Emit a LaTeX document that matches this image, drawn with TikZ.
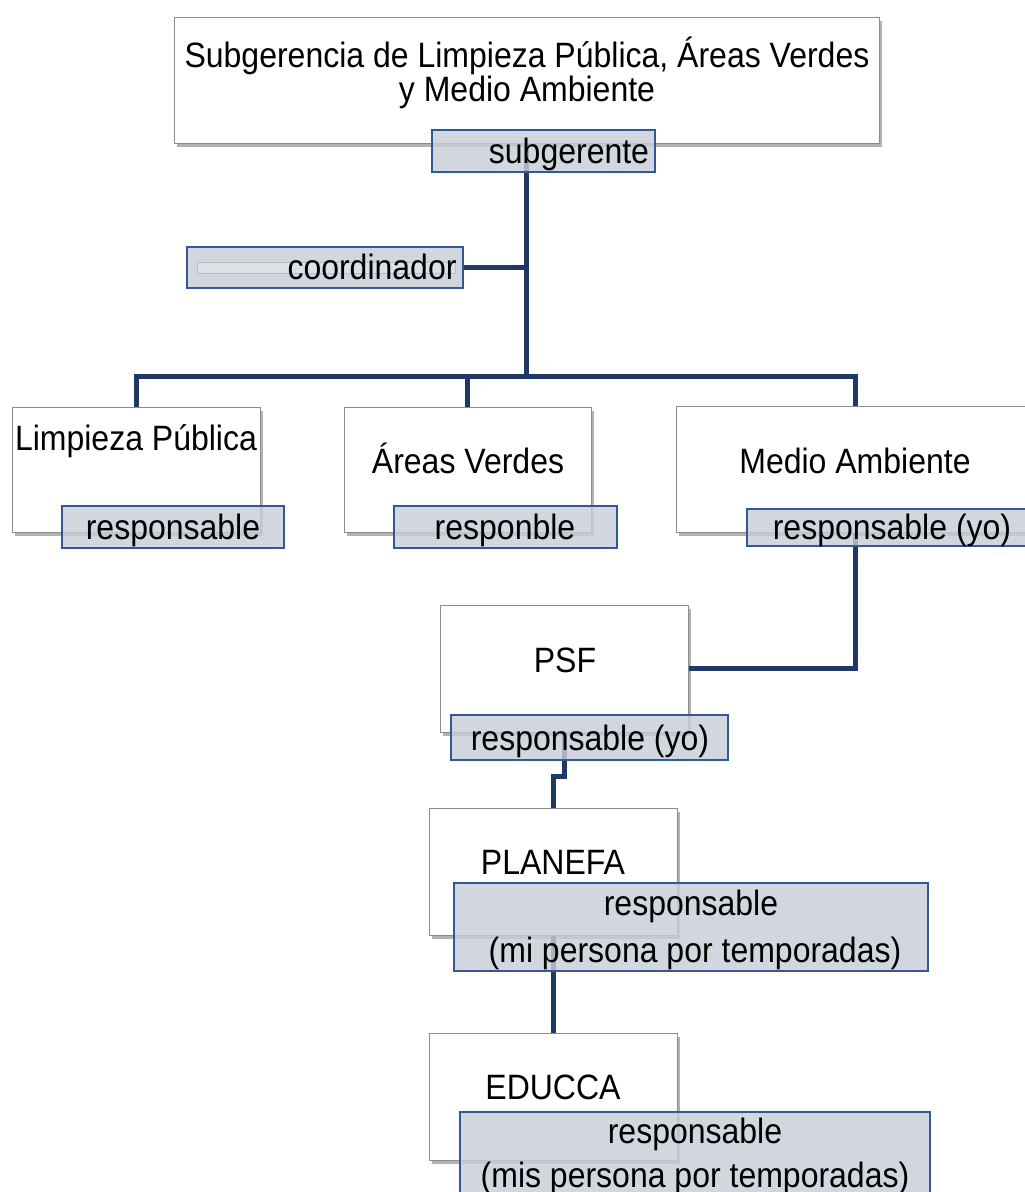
\documentclass[tikz,border=0pt]{standalone}
\usepackage{fontspec}
\setmainfont{Liberation Sans}
\usetikzlibrary{shadows}
\definecolor{navy}{RGB}{31,56,100}
\definecolor{lblfill}{RGB}{200,205,216}
\definecolor{lbldraw}{RGB}{52,88,150}
\definecolor{boxdraw}{RGB}{140,140,140}
\newcommand{\tallt}[1]{\scalebox{1}[1.1]{#1}}
\begin{document}
\begin{tikzpicture}[x=1pt,y=-1pt,
  wbox/.style={draw=boxdraw, line width=1pt, fill=white, inner sep=0pt,
    drop shadow={shadow xshift=2.5pt, shadow yshift=-4pt, opacity=0.55, fill=black!55}},
  lbox/.style={draw=lbldraw, line width=1.5pt, fill=lblfill, fill opacity=0.82, inner sep=0pt},
  conn/.style={draw=navy, line width=5pt},
  txt/.style={font=\fontsize{32}{38}\selectfont, inner sep=0pt, anchor=base, text=black}]
\path[use as bounding box, clip] (0,0) rectangle (1025,1192);
\fill[white] (0,0) rectangle (1025,1192);
% white boxes
\node[wbox, minimum width=705pt, minimum height=126pt] (top) at (526.5,80) {};
\node[wbox, minimum width=248pt, minimum height=125pt] (lp) at (136,469.5) {};
\node[wbox, minimum width=247pt, minimum height=125pt] (av) at (467.5,469.5) {};
\node[wbox, minimum width=358pt, minimum height=126pt] (ma) at (855,469) {};
\node[wbox, minimum width=248pt, minimum height=127pt] (psf) at (564,668.5) {};
\node[wbox, minimum width=248pt, minimum height=127pt] (pl) at (553,871.5) {};
\node[wbox, minimum width=248pt, minimum height=127pt] (ed) at (553,1096.5) {};
% texts of white boxes
\node[txt] (t1) at (527,67) {\tallt{Subgerencia de Limpieza Pública, Áreas Verdes}};
\node[txt] (t2) at (527,101) {\tallt{y Medio Ambiente}};
\node[txt] (tlp) at (136,450) {\tallt{Limpieza Pública}};
\node[txt] (tav) at (468,473) {\tallt{Áreas Verdes}};
\node[txt] (tma) at (855,473) {\tallt{Medio Ambiente}};
\node[txt] (tpsf) at (565,672) {\tallt{PSF}};
\node[txt] (tpl) at (553,874) {\tallt{PLANEFA}};
\node[txt] (ted) at (553,1099) {\tallt{EDUCCA}};
% connectors
\coordinate (bus) at (top.south |- 0,376);
\coordinate (j1) at (564,776);
\draw[conn] (top.south) -- (bus);
\draw[conn] (lp.north) |- (bus) -| (ma.north);
\draw[conn] (av.north) -- (av.north |- bus);
\draw[conn] (ma.south) |- (psf.east);
\draw[conn] (psf.south) -- (j1) -| (pl.north);
\draw[conn] (pl.south) -- (ed.north);
% label boxes
\node[lbox, minimum width=223pt, minimum height=42pt] (sub) at (543.5,151) {};
\node[lbox, minimum width=276pt, minimum height=41pt] (coord) at (325,267.5) {};
\draw[conn] (coord.east) -- (coord.east -| top.south);
\fill[white, opacity=0.25] (197,262) rectangle (455,273);
\draw[black!25, line width=0.6pt] (197,262) rectangle (455,273);
\node[lbox, minimum width=222pt, minimum height=42pt] (lpr) at (173,527) {};
\node[lbox, minimum width=223pt, minimum height=42pt] (avr) at (505.5,527) {};
\node[lbox, minimum width=290pt, minimum height=37pt] (mar) at (892,527.5) {};
\node[lbox, minimum width=277pt, minimum height=45pt] (psfr) at (589.5,737.5) {};
\node[lbox, minimum width=474pt, minimum height=88pt] (plr) at (691,927) {};
\node[lbox, minimum width=470pt, minimum height=90pt] (edr) at (695,1157) {};
% label texts
\node[txt] (tsub) at (569,163) {\tallt{subgerente}};
\node[txt] (tcoord) at (372,279) {\tallt{coordinador}};
\node[txt] (tlpr) at (173,539) {\tallt{responsable}};
\node[txt] (tavr) at (505,539) {\tallt{responble}};
\node[txt] (tmar) at (892,539) {\tallt{responsable (yo)}};
\node[txt] (tpsfr) at (590,750) {\tallt{responsable (yo)}};
\node[txt] (tplr1) at (691,915) {\tallt{responsable}};
\node[txt] (tplr2) at (695,962) {\tallt{(mi persona por temporadas)}};
\node[txt] (tedr1) at (695,1143) {\tallt{responsable}};
\node[txt] (tedr2) at (695,1187) {\tallt{(mis persona por temporadas)}};
\end{tikzpicture}
\end{document}
